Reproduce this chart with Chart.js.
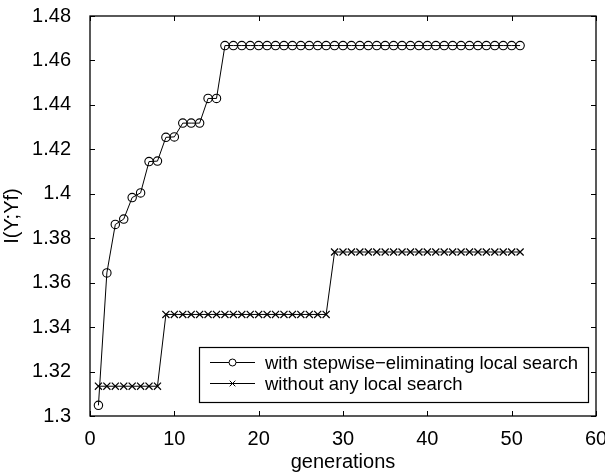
<!DOCTYPE html>
<html>
<head>
<meta charset="utf-8">
<script src="https://cdn.jsdelivr.net/npm/chart.js@4.4.1/dist/chart.umd.min.js"></script>
<style>
  html, body { margin: 0; padding: 0; background: #fff; }
  #wrap { width: 605px; height: 474px; }
</style>
</head>
<body>
<div id="wrap"><canvas id="chart"></canvas></div>
<script>
// generation numbers 1..51
const generations = Array.from({ length: 51 }, (_, i) => i + 1);

// with stepwise-eliminating local search
const withLocal = [
  1.3048, 1.3644, 1.3862, 1.3886, 1.3983, 1.4004, 1.4145, 1.4147, 1.4254, 1.4256,
  1.4318, 1.4318, 1.4318, 1.4429, 1.4429, 1.4667, 1.4667, 1.4667, 1.4667, 1.4667,
  1.4667, 1.4667, 1.4667, 1.4667, 1.4667, 1.4667, 1.4667, 1.4667, 1.4667, 1.4667,
  1.4667, 1.4667, 1.4667, 1.4667, 1.4667, 1.4667, 1.4667, 1.4667, 1.4667, 1.4667,
  1.4667, 1.4667, 1.4667, 1.4667, 1.4667, 1.4667, 1.4667, 1.4667, 1.4667, 1.4667,
  1.4667
];

// without any local search
const withoutLocal = [
  1.3134, 1.3134, 1.3134, 1.3134, 1.3134, 1.3134, 1.3134, 1.3134, 1.3457, 1.3457,
  1.3457, 1.3457, 1.3457, 1.3457, 1.3457, 1.3457, 1.3457, 1.3457, 1.3457, 1.3457,
  1.3457, 1.3457, 1.3457, 1.3457, 1.3457, 1.3457, 1.3457, 1.3457, 1.3738, 1.3738,
  1.3738, 1.3738, 1.3738, 1.3738, 1.3738, 1.3738, 1.3738, 1.3738, 1.3738, 1.3738,
  1.3738, 1.3738, 1.3738, 1.3738, 1.3738, 1.3738, 1.3738, 1.3738, 1.3738, 1.3738,
  1.3738
];

const seriesLabels = ["with stepwise\u2212eliminating local search", "without any local search"];
const xTicks = [0, 10, 20, 30, 40, 50, 60];
const yTicks = [1.3, 1.32, 1.34, 1.36, 1.38, 1.4, 1.42, 1.44, 1.46, 1.48];
const yTickLabels = ["1.3", "1.32", "1.34", "1.36", "1.38", "1.4", "1.42", "1.44", "1.46", "1.48"];

const FONT = "'Liberation Sans', Arial, Helvetica, sans-serif";

// box round the plot area with inward ticks on all four sides
const frame = {
  id: "frame",
  afterDatasetsDraw(chart) {
    const { ctx, chartArea: a, scales } = chart;
    ctx.save();
    ctx.strokeStyle = "#000";
    ctx.lineWidth = 1.3;
    ctx.strokeRect(a.left, a.top, a.right - a.left, a.bottom - a.top);
    ctx.lineWidth = 1;
    ctx.beginPath();
    scales.x.ticks.forEach((t) => {
      const px = Math.round(scales.x.getPixelForValue(t.value)) + 0.5;
      ctx.moveTo(px, a.bottom); ctx.lineTo(px, a.bottom - 5);
      ctx.moveTo(px, a.top); ctx.lineTo(px, a.top + 5);
    });
    scales.y.ticks.forEach((t) => {
      const py = Math.round(scales.y.getPixelForValue(t.value)) + 0.5;
      ctx.moveTo(a.left, py); ctx.lineTo(a.left + 5, py);
      ctx.moveTo(a.right, py); ctx.lineTo(a.right - 5, py);
    });
    ctx.stroke();
    ctx.restore();
  }
};

// legend box in the lower right corner of the plot
const boxLegend = {
  id: "boxLegend",
  afterDraw(chart) {
    const { ctx } = chart;
    const x0 = 199.5, y0 = 347.5, w = 389, h = 55;
    ctx.save();
    ctx.fillStyle = "#fff";
    ctx.fillRect(x0, y0, w, h);
    ctx.strokeStyle = "#000";
    ctx.lineWidth = 1.2;
    ctx.strokeRect(x0, y0, w, h);
    ctx.font = "18.5px " + FONT;
    ctx.textBaseline = "middle";
    chart.data.datasets.forEach((ds, i) => {
      const cy = y0 + 15 + i * 21;
      ctx.lineWidth = 1;
      ctx.strokeStyle = "#000";
      ctx.beginPath();
      ctx.moveTo(210, cy); ctx.lineTo(255, cy);
      ctx.stroke();
      ctx.fillStyle = "#fff";
      Chart.helpers.drawPoint(ctx, {
        pointStyle: ds.pointStyle, radius: i === 0 ? 3.5 : 4, borderWidth: 1
      }, 232.5, cy);
      ctx.fillStyle = "#000";
      ctx.fillText(ds.label, 265, cy + 1);
    });
    ctx.restore();
  }
};

new Chart(document.getElementById("chart"), {
  type: "line",
  data: {
    labels: generations,
    datasets: [
      {
        label: seriesLabels[0],
        data: generations.map((g, i) => ({ x: g, y: withLocal[i] })),
        borderColor: "#000",
        borderWidth: 1,
        pointStyle: "circle",
        pointRadius: 4.2,
        pointBorderColor: "#000",
        pointBackgroundColor: "rgba(0,0,0,0)",
        pointBorderWidth: 1.1,
        tension: 0
      },
      {
        label: seriesLabels[1],
        data: generations.map((g, i) => ({ x: g, y: withoutLocal[i] })),
        borderColor: "#000",
        borderWidth: 1,
        pointStyle: "crossRot",
        pointRadius: 5,
        pointBorderColor: "#000",
        pointBorderWidth: 1.2,
        tension: 0
      }
    ]
  },
  options: {
    responsive: true,
    maintainAspectRatio: false,
    animation: false,
    layout: { padding: { top: 16, right: 9, left: 0, bottom: 0 } },
    plugins: { legend: { display: false }, tooltip: { enabled: false } },
    scales: {
      x: {
        type: "linear",
        min: 0,
        max: 60,
        afterBuildTicks: (s) => { s.ticks = xTicks.map((v) => ({ value: v })); },
        afterFit: (s) => { s.height = 58; s.paddingLeft = 0; s.paddingRight = 0; },
        grid: { display: false },
        border: { display: false },
        ticks: { color: "#000", font: { family: FONT, size: 20 }, padding: 3, maxRotation: 0 },
        title: {
          display: true, text: "generations", color: "#000",
          font: { family: FONT, size: 20 }, padding: { top: 0, bottom: 0 }
        }
      },
      y: {
        type: "linear",
        min: 1.3,
        max: 1.48,
        afterBuildTicks: (s) => { s.ticks = yTicks.map((v) => ({ value: v })); },
        afterFit: (s) => { s.width = 90; s.paddingTop = 0; s.paddingBottom = 0; },
        grid: { display: false },
        border: { display: false },
        ticks: {
          color: "#000", font: { family: FONT, size: 20 }, padding: 11,
          callback: (v, i) => yTickLabels[i]
        },
        title: {
          display: true, text: "I(Y;Yf)", color: "#000",
          font: { family: FONT, size: 20 }, padding: { top: 0, bottom: 0 }
        }
      }
    }
  },
  plugins: [frame, boxLegend]
});
</script>
</body>
</html>
